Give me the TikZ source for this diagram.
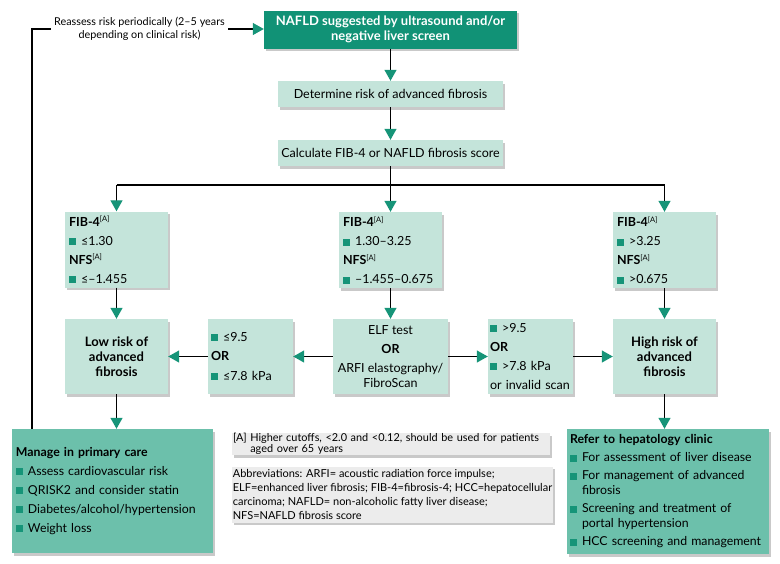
\documentclass[tikz,border=0pt]{standalone}
\usepackage{fontspec}
\setmainfont{Lato}
\usetikzlibrary{arrows.meta,shadows}
\definecolor{dkg}{RGB}{17,146,118}
\definecolor{lg}{RGB}{196,228,218}
\definecolor{mg}{RGB}{108,192,171}
\definecolor{tl}{RGB}{22,148,120}
\definecolor{gr}{RGB}{236,236,236}
\newcommand\bsq{\textcolor{tl}{\rule{7pt}{7pt}}\hspace{5pt}}
\newcommand\supA{\textsuperscript{\mdseries\fontsize{7.5}{7.5}\selectfont[A]}}
\tikzset{
 shad/.style={drop shadow={shadow xshift=1.5pt,shadow yshift=-2.5pt,opacity=0.3,fill=black!70}},
 lbox/.style={fill=lg,shad,inner sep=0pt,align=center,font=\fontsize{12.5}{15}\selectfont},
 topbox/.style={fill=dkg,shad,inner sep=0pt,align=center,text=white,font=\bfseries\fontsize{13}{14.5}\selectfont},
 mbox/.style={fill=mg,shad,inner sep=0pt,align=left,font=\fontsize{12.3}{15}\selectfont},
 gbox/.style={fill=gr,shad,inner sep=0pt,align=left,font=\fontsize{11}{14.2}\selectfont},
 ln/.style={line width=1.2pt},
 arr/.style={line width=1.2pt,-{Triangle[width=12pt,length=11pt,fill=tl,color=tl]}},
}
\begin{document}
\begin{tikzpicture}[x=1pt,y=-1pt]
\useasboundingbox (0,0) rectangle (780,563);
% top row
\node[topbox,minimum width=253,minimum height=38] (top) at (390.5,29.5) {NAFLD suggested by ultrasound and/or\\negative liver screen};
\node[lbox,minimum width=225,minimum height=26] (det) at (390.5,94) {Determine risk of advanced fibrosis};
\node[lbox,minimum width=225,minimum height=26] (calc) at (390.5,153) {Calculate FIB-4 or NAFLD fibrosis score};
% FIB boxes
\node[lbox,align=left,minimum width=103,minimum height=76,text width=95,font=\fontsize{12.5}{19}\selectfont] (fibL) at (116.5,249.5)
 {\textbf{FIB-4}\supA\\\bsq≤1.30\\\textbf{NFS}\supA\\\bsq≤–1.455};
\node[lbox,align=left,minimum width=103,minimum height=76,text width=95,font=\fontsize{12.5}{19}\selectfont] (fibM) at (390.5,250)
 {\textbf{FIB-4}\supA\\\bsq1.30–3.25\\\textbf{NFS}\supA\\\bsq–1.455–0.675};
\node[lbox,align=left,minimum width=103,minimum height=76,text width=95,font=\fontsize{12.5}{19}\selectfont] (fibR) at (664.5,250)
 {\textbf{FIB-4}\supA\\\bsq>3.25\\\textbf{NFS}\supA\\\bsq>0.675};
% second row
\node[lbox,minimum width=103,minimum height=75,font=\bfseries\fontsize{13}{15}\selectfont] (low) at (116.5,356.5) {Low risk of\\advanced\\fibrosis};
\node[lbox,align=left,minimum width=85,minimum height=75,text width=79,font=\fontsize{12.5}{19.5}\selectfont] (lo) at (250.5,356.5) {\bsq≤9.5\\\textbf{OR}\\\bsq≤7.8 kPa};
\node[lbox,minimum width=115,minimum height=75] (elf) at (390.5,356.5) {ELF test\\[4pt]\textbf{OR}\\[4pt]ARFI elastography/\\FibroScan};
\node[lbox,align=left,minimum width=85,minimum height=75,text width=81,font=\fontsize{12.5}{19}\selectfont] (hi) at (530.5,356.5) {\bsq>9.5\\\textbf{OR}\\\bsq>7.8 kPa\\or invalid scan};
\node[lbox,minimum width=103,minimum height=75,font=\bfseries\fontsize{13}{15}\selectfont] (high) at (664.5,356.5) {High risk of\\advanced\\fibrosis};
% bottom
\node[mbox,minimum width=201,minimum height=124,text width=193,font=\fontsize{12.3}{19}\selectfont] (man) at (112.5,491)
 {\textbf{Manage in primary care}\\\bsq Assess cardiovascular risk\\\bsq QRISK2 and consider statin\\\bsq Diabetes/alcohol/hypertension\\\bsq Weight loss};
\node[mbox,minimum width=202,minimum height=125,text width=196] (ref) at (668,491.5)
 {\textbf{Refer to hepatology clinic}\\[3pt]\bsq For assessment of liver disease\\[3pt]\bsq For management of advanced\\\hphantom{\bsq}fibrosis\\[3pt]\bsq Screening and treatment of\\\hphantom{\bsq}portal hypertension\\[3pt]\bsq HCC screening and management};
\node[gbox,minimum width=318,minimum height=22,inner xsep=1pt,text width=316,font=\fontsize{10.9}{11.5}\selectfont] (foot) at (391,444)
 {[A] Higher cutoffs, <2.0 and <0.12, should be used for patients\\\hphantom{[A] }aged over 65 years};
\node[gbox,minimum width=321,minimum height=56,inner xsep=0.5pt] (abbr) at (392.5,494.5)
 {Abbreviations: ARFI= acoustic radiation force impulse;\\ELF=enhanced liver fibrosis; FIB-4=fibrosis-4; HCC=hepatocellular\\carcinoma; NAFLD= non-alcoholic fatty liver disease;\\NFS=NAFLD fibrosis score};
\node[inner xsep=3pt,align=center,font=\fontsize{10.8}{13}\selectfont] (reas) at (139.5,29) {Reassess risk periodically (2–5 years\\depending on clinical risk)};
% connectors
\coordinate (jL) at (116.5,185);
\coordinate (jR) at (664.5,185);
\coordinate (fb) at (32,429);
\draw[arr] (top) -- (det);
\draw[arr] (det) -- (calc);
\draw[arr] (calc) -- (fibM);
\draw[ln] (jL) -- (jR);
\draw[arr] (jL) -- (fibL);
\draw[arr] (jR) -- (fibR);
\draw[arr] (fibL) -- (low);
\draw[arr] (fibM) -- (elf);
\draw[arr] (fibR) -- (high);
\draw[arr] (elf) -- (lo);
\draw[arr] (lo) -- (low);
\draw[arr] (elf) -- (hi);
\draw[arr] (hi) -- (high);
\draw[arr] (low) -- (man.north -| low.south);
\draw[arr] (high) -- (ref.north -| high.south);
\draw[ln] (fb) |- (reas.west);
\draw[arr] (reas.east) -- (top.west |- reas.east);
\end{tikzpicture}
\end{document}
